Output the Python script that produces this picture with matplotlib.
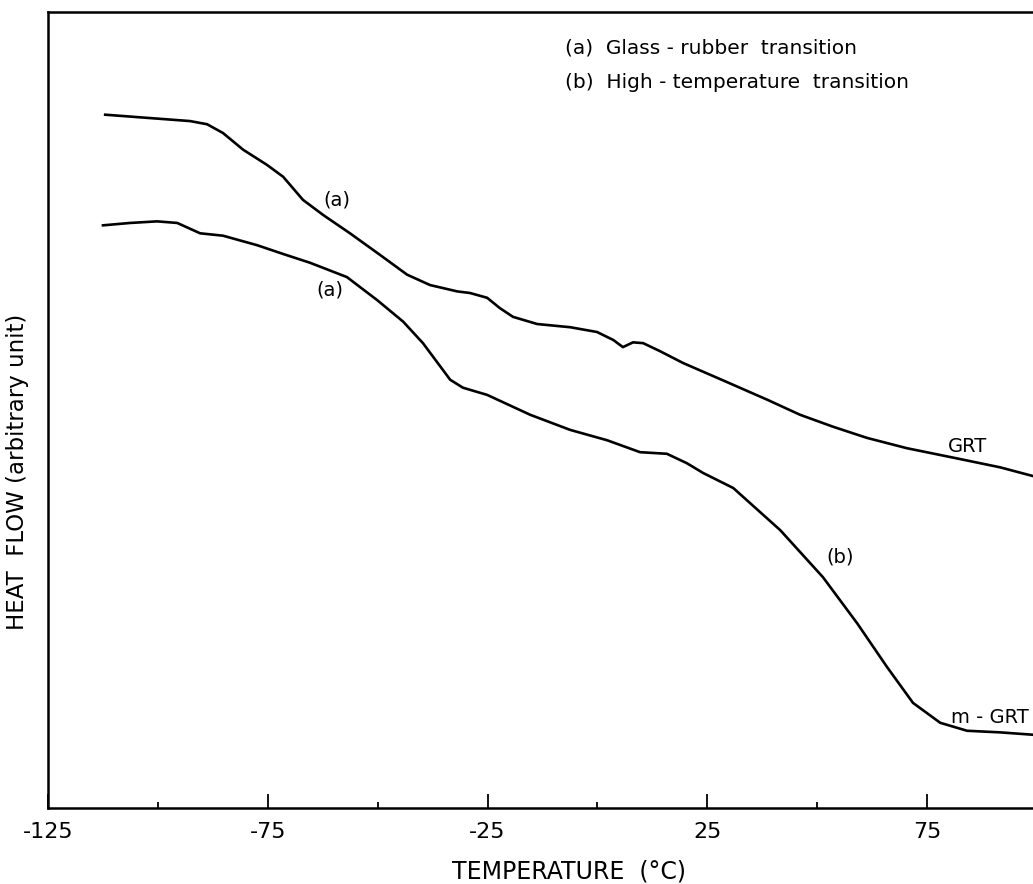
"""
DSC traces of GRT and m-GRT: heat flow vs temperature.
Output: out.png
"""

import numpy as np
import matplotlib
matplotlib.use("Agg")
import matplotlib.pyplot as plt

plt.rcParams["axes.unicode_minus"] = False
plt.rcParams["font.family"] = ["DejaVu Sans"]

# ── Data ──────────────────────────────────────────────────────────────────────
grt_temp = [-112.0, -92.7, -88.8, -85.2, -80.6, -75.2, -71.5, -67.0, -62.4,
            -56.3, -49.5, -43.3, -38.1, -31.9, -29.0, -25.1, -22.2, -19.2,
            -13.7, -6.2, -0.1, 3.6, 5.8, 8.1, 10.4, 14.2, 19.5, 29.5, 38.6,
            46.1, 53.6, 61.3, 70.4, 80.2, 91.6, 99.1]
grt_flow = [8.71, 8.63, 8.59, 8.48, 8.27, 8.08, 7.93, 7.64, 7.45,
            7.22, 6.95, 6.70, 6.57, 6.49, 6.47, 6.41, 6.28, 6.17,
            6.08, 6.04, 5.98, 5.88, 5.79, 5.85, 5.84, 5.74, 5.59, 5.35, 5.13,
            4.94, 4.79, 4.65, 4.52, 4.41, 4.28, 4.17]

mgrt_temp = [-112.5, -106.3, -100.2, -95.6, -90.4, -85.2, -77.4, -71.5, -65.4,
             -57.0, -50.1, -44.2, -39.7, -33.5, -30.6, -25.1, -15.3, -6.2,
             2.2, 9.7, 15.8, 20.4, 24.0, 30.9, 41.6, 51.3, 59.1, 65.9, 71.8,
             78.0, 84.1, 91.6, 99.1]
mgrt_flow = [7.32, 7.35, 7.37, 7.35, 7.22, 7.19, 7.07, 6.96, 6.85,
             6.67, 6.38, 6.11, 5.84, 5.38, 5.28, 5.19, 4.94, 4.75,
             4.62, 4.47, 4.45, 4.33, 4.21, 4.02, 3.49, 2.90, 2.32, 1.77, 1.32,
             1.07, 0.97, 0.95, 0.92]

# ── Plot ──────────────────────────────────────────────────────────────────────
fig = plt.figure(figsize=(10.33, 8.84), dpi=100)
ax = fig.add_axes([0.0465, 0.086, 0.9535, 0.9004])

ax.plot(grt_temp, grt_flow, color="black", lw=1.9, solid_joinstyle="round")
ax.plot(mgrt_temp, mgrt_flow, color="black", lw=1.9, solid_joinstyle="round")

ax.set_xlim(-125, 99.1)
ax.set_ylim(0, 10)

ax.set_xticks([-125, -75, -25, 25, 75])
ax.set_xticks([-100, -50, 0, 50], minor=True)
ax.tick_params(axis="x", which="major", direction="in", length=10, width=1.3,
               labelsize=16, pad=10)
ax.tick_params(axis="x", which="minor", direction="in", length=4.5, width=1.3)
ax.set_yticks([])

ax.spines["right"].set_visible(False)
for s in ["left", "bottom", "top"]:
    ax.spines[s].set_linewidth(1.8)

# curve labels
ax.text(-59.2, 7.64, "(a)", fontsize=14, ha="center", va="center")
ax.text(-60.8, 6.51, "(a)", fontsize=14, ha="center", va="center")
ax.text(55.2, 3.15, "(b)", fontsize=14, ha="center", va="center")
ax.text(84.1, 4.54, "GRT", fontsize=14, ha="center", va="center")
ax.text(80.5, 1.14, "m - GRT", fontsize=14, ha="left", va="center")

# key
ax.text(0.525, 0.955, "(a)  Glass - rubber  transition", transform=ax.transAxes,
        fontsize=14.5, ha="left", va="center")
ax.text(0.525, 0.912, "(b)  High - temperature  transition", transform=ax.transAxes,
        fontsize=14.5, ha="left", va="center")

fig.text(569 / 1033, 1 - 872 / 884, "TEMPERATURE  (°C)", fontsize=17,
         ha="center", va="center")
fig.text(18 / 1033, 1 - 472 / 884, "HEAT  FLOW (arbitrary unit)", rotation=90,
         fontsize=16.5, ha="center", va="center")

fig.savefig("out.png", dpi=100)
plt.close(fig)
print("Saved: out.png")
